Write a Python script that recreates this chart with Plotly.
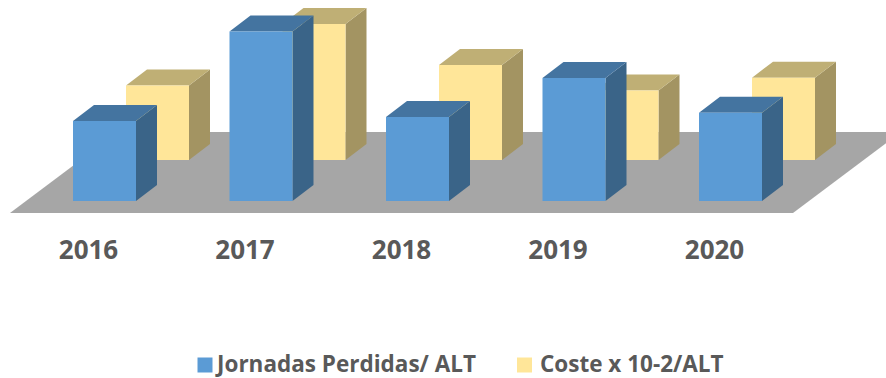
import plotly.graph_objects as go

years = ["2016", "2017", "2018", "2019", "2020"]
jornadas = [80, 169.5, 84, 123, 88.3]
coste = [74.5, 136, 95, 69.5, 82.3]
series_names = ["Jornadas Perdidas/ ALT", "Coste x 10-2/ALT"]

W, H = 886, 378
PX_CAT = 156.5            # pixels per category
CX0, BASE = 104.5, 201    # pixel position of first blue bar centre / baseline
BAR = 63 / PX_CAT         # bar width in category units
DX, DY = 21 / PX_CAT, 16  # oblique depth vector
ROW = (53 / PX_CAT, 41)   # offset of back row

def cube(i, v, off):
    x0 = i - BAR / 2 + off[0]
    x1 = x0 + BAR
    b = off[1]
    t = b + v
    front = [(x0, b), (x1, b), (x1, t), (x0, t), (x0, b)]
    side = [(x1, b), (x1 + DX, b + DY), (x1 + DX, t + DY), (x1, t), (x1, b)]
    top = [(x0, t), (x1, t), (x1 + DX, t + DY), (x0 + DX, t + DY), (x0, t)]
    return front, side, top

def poly_trace(polys, color):
    xs, ys = [], []
    for p in polys:
        xs += [q[0] for q in p] + [None]
        ys += [q[1] for q in p] + [None]
    return go.Scatter(x=xs, y=ys, mode="lines", fill="toself", fillcolor=color,
                      line=dict(width=0, color=color), hoverinfo="skip", showlegend=False)

def px_x(p):
    return (p - CX0) / PX_CAT

def px_y(p):
    return BASE - p

fig = go.Figure()

# floor
fb, fd = px_y(213), px_y(132)
fl, fr, floor_dx = px_x(10), px_x(793), 108 / PX_CAT
fig.add_trace(poly_trace([[(fl, fb), (fr, fb), (fr + floor_dx, fd),
                           (fl + floor_dx, fd), (fl, fb)]], "#A6A6A6"))

for values, off, cols in [
    (coste, ROW, ("#FFE699", "#A39462", "#BFAF75")),
    (jornadas, (0, 0), ("#5B9BD5", "#3A6488", "#4474A0")),
]:
    cubes = [cube(i, v, off) for i, v in enumerate(values)]
    fig.add_trace(poly_trace([c[1] for c in cubes], cols[1]))
    fig.add_trace(poly_trace([c[2] for c in cubes], cols[2]))
    fig.add_trace(poly_trace([c[0] for c in cubes], cols[0]))

TXT = "#595959"
FONT = "Open Sans"
fig.add_trace(go.Scatter(
    x=[i - 16 / PX_CAT for i in range(len(years))], y=[px_y(252)] * len(years),
    mode="text", text=years, textposition="middle center",
    textfont=dict(family=FONT, size=26, color=TXT, weight="bold"),
    hoverinfo="skip", showlegend=False))

# legend row
for name, color, mx, tx in zip(series_names, ["#5B9BD5", "#FFE699"], [205, 524.5], [217, 540]):
    fig.add_trace(go.Scatter(
        x=[px_x(mx)], y=[px_y(365)], mode="markers",
        marker=dict(symbol="square", size=15, color=color, line=dict(width=0)),
        hoverinfo="skip", showlegend=False))
    fig.add_trace(go.Scatter(
        x=[px_x(tx)], y=[px_y(366)], mode="text", text=[name],
        textposition="middle right",
        textfont=dict(family=FONT, size=22.5, color=TXT, weight="bold"),
        hoverinfo="skip", showlegend=False))

fig.update_layout(
    width=W, height=H,
    margin=dict(l=0, r=0, t=0, b=0),
    paper_bgcolor="white", plot_bgcolor="white",
    xaxis=dict(range=[-CX0 / PX_CAT, (W - CX0) / PX_CAT], visible=False, fixedrange=True),
    yaxis=dict(range=[BASE - H, BASE], visible=False, fixedrange=True),
    showlegend=False,
)

fig.write_html("out.html", config=dict(displayModeBar=False),
               post_script="document.body.style.margin='0';document.body.style.overflow='hidden';")
